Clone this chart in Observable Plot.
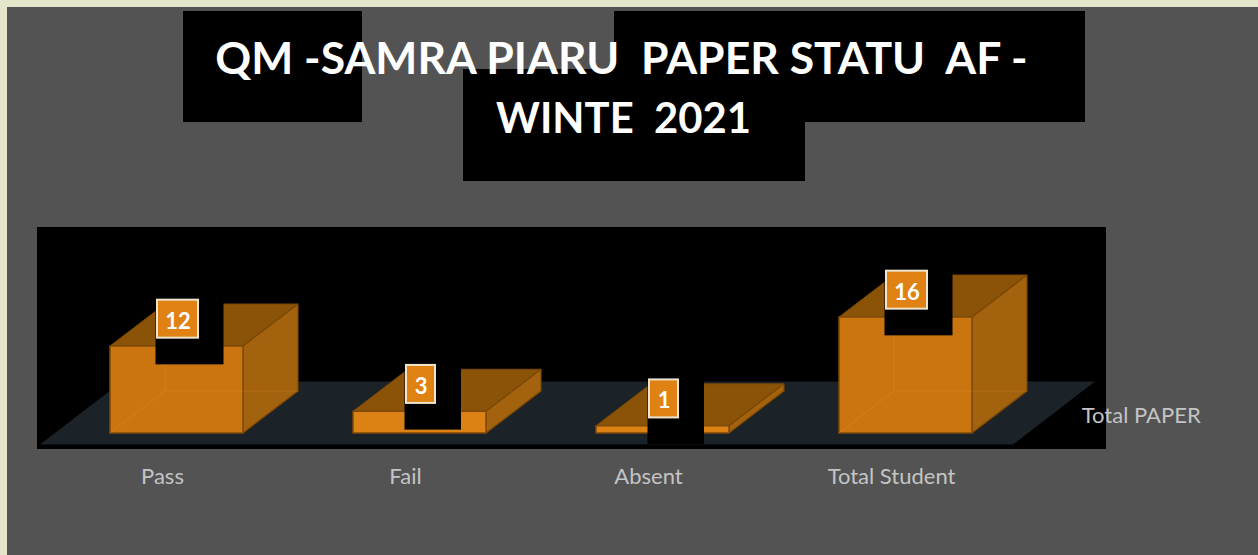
<!DOCTYPE html>
<html>
<head>
<meta charset="utf-8">
<script src="https://cdn.jsdelivr.net/npm/d3@7"></script>
<script src="https://cdn.jsdelivr.net/npm/@observablehq/plot@0.6"></script>
<style>
html,body{margin:0;padding:0;background:#e5e5cb;overflow:hidden;width:1258px;height:555px}
#page{position:absolute;left:7px;top:7px;width:1251px;height:548px;background:#535353}
.blk{position:absolute;background:#000}
#title{position:absolute;left:0;width:1248px;text-align:center;margin:0;color:#fff;font:bold 44.5px/59px Lato,sans-serif;white-space:pre;top:27px}
#title span{display:block;position:relative}
#title .l1{left:-2.5px}
#title .l2{font-size:41.8px;left:-0.5px;top:2px}
#chart{position:absolute;left:0;top:0}
#chart svg{background:transparent!important}
</style>
</head>
<body>
<div id="page"></div>
<div class="blk" style="left:183px;top:11px;width:179px;height:111px"></div>
<div class="blk" style="left:614px;top:11px;width:471px;height:111px"></div>
<div class="blk" style="left:463px;top:69px;width:342px;height:112px"></div>
<div class="blk" style="left:37px;top:227px;width:1069px;height:222px"></div>
<h1 id="title"><span class="l1">QM -SAMRA PIARU  PAPER STATU  AF -</span><span class="l2">WINTE  2021</span></h1>
<div id="chart"></div>
<script>
const categories = ["Pass", "Fail", "Absent", "Total Student"];
const values = [12, 3, 1, 16];
const seriesName = "Total PAPER";

// one pixel expressed in scale units
const ux = 1 / 243, uy = 1 / 7.25;
const halfW = 66.5 * ux, depthX = 55 * ux, depthY = 42 * uy;

const bars = categories.map((name, i) => ({name, i, value: values[i]}));

const poly = (fn) => bars.flatMap(b =>
  fn(b).map(([x, y]) => ({id: b.name, value: b.value, x, y})));

const front = poly(b => [[b.i-halfW,0],[b.i+halfW,0],[b.i+halfW,b.value],[b.i-halfW,b.value],[b.i-halfW,0]]);
const side = poly(b => [[b.i+halfW,0],[b.i+halfW+depthX,depthY],[b.i+halfW+depthX,b.value+depthY],[b.i+halfW,b.value],[b.i+halfW,0]]);
const topFace = poly(b => [[b.i-halfW,b.value],[b.i+halfW,b.value],[b.i+halfW+depthX,b.value+depthY],[b.i-halfW+depthX,b.value+depthY],[b.i-halfW,b.value]]);
const inner = poly(b => [[b.i-halfW,0],[b.i-halfW+depthX,depthY],[b.i+halfW+depthX,depthY]]);
const innerV = poly(b => [[b.i-halfW+depthX,depthY],[b.i-halfW+depthX,Math.max(b.value+depthY,depthY)]]);

const floorLeft = -0.5617, floorRight = 3.442, floorFront = -1.6, floorDX = 82 * ux, floorDY = 63 * uy;
const floor = [
  {x: floorLeft, y: floorFront},
  {x: floorRight, y: floorFront},
  {x: floorRight + floorDX, y: floorFront + floorDY},
  {x: floorLeft + floorDX, y: floorFront + floorDY},
  {x: floorLeft, y: floorFront}
];

const two = d => d.value >= 10;
const labelY = d => d.value + 3.7;
const labelH = 19 * uy;

const chart = Plot.plot({
  width: 1258, height: 555,
  marginTop: 0, marginRight: 0, marginBottom: 0, marginLeft: 0,
  style: {background: "transparent"},
  x: {axis: null, domain: [0, 3], range: [176, 905]},
  y: {axis: null, domain: [0, 16], range: [432.5, 316.5]},
  marks: [
    Plot.line(floor, {x: "x", y: "y", fill: "#1b2228", stroke: "none"}),
    Plot.line(topFace, {x: "x", y: "y", z: "id", fill: "#8a5308", stroke: "#7a4706", strokeWidth: 1}),
    Plot.line(side, {x: "x", y: "y", z: "id", fill: "#a3620d", stroke: "#7a4706", strokeWidth: 1.2}),
    Plot.line(front, {x: "x", y: "y", z: "id", fill: "#cb7510", stroke: "#7f4a07", strokeWidth: 1.5, filter: d => d.value >= 5}),
    Plot.line(front, {x: "x", y: "y", z: "id", fill: "#dc8215", stroke: "#7f4a07", strokeWidth: 1.5, filter: d => d.value < 5}),
    Plot.line(inner, {x: "x", y: "y", z: "id", stroke: "#e8962a", strokeOpacity: 0.3, strokeWidth: 1, filter: d => d.value >= 5}),
    Plot.line(innerV, {x: "x", y: "y", z: "id", stroke: "#e8962a", strokeOpacity: 0.3, strokeWidth: 1, filter: d => d.value >= 5}),
    // label backing
    Plot.rect(bars, {
      x1: d => d.i + (two(d) ? -20.5 : -14.5) * ux,
      x2: d => d.i + (two(d) ? 47.5 : 42) * ux,
      y1: d => d.value - 2.6,
      y2: d => labelY(d) + labelH,
      fill: "#000"
    }),
    Plot.rect(bars, {
      x1: d => d.i + 1.5 * ux - (two(d) ? 20.5 : 14.5) * ux,
      x2: d => d.i + 1.5 * ux + (two(d) ? 20.5 : 14.5) * ux,
      y1: d => labelY(d) - labelH,
      y2: d => labelY(d) + labelH,
      fill: "#df8113", stroke: "#ece6d0", strokeWidth: 2
    }),
    Plot.text(bars, {
      x: "i", y: labelY, dx: 1.5, dy: 2.5, text: d => String(d.value),
      fill: "#fff", fontSize: 22, fontWeight: "bold", fontFamily: "Lato, sans-serif"
    }),
    Plot.text(bars, {
      x: "i", y: -6.07, dx: -14, text: "name",
      fill: "#c4c4c4", fontSize: 22, fontFamily: "Lato, sans-serif"
    }),
    Plot.text([seriesName], {
      x: 3.97, y: 2.4, text: d => d,
      fill: "#c4c4c4", fontSize: 22, fontFamily: "Lato, sans-serif"
    })
  ]
});
document.getElementById("chart").append(chart);
</script>
</body>
</html>
